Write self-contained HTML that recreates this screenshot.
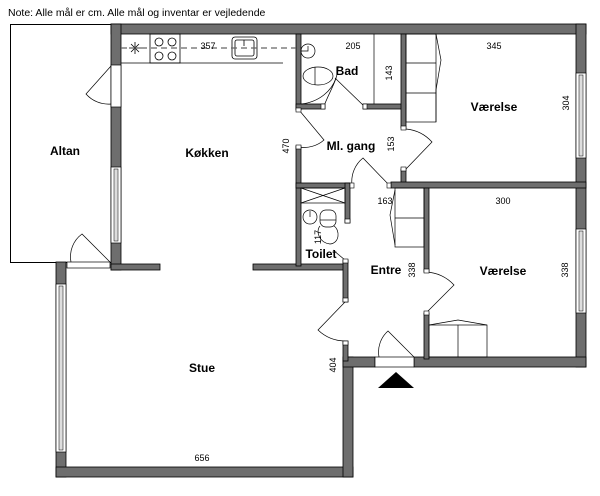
<!DOCTYPE html>
<html><head><meta charset="utf-8"><style>
html,body{margin:0;padding:0;background:#fff;width:600px;height:496px;overflow:hidden}
svg{display:block}
text{font-family:"Liberation Sans",sans-serif}
.l{font-weight:bold;font-size:12px}
.d{font-size:9px}
</style></head><body>
<svg width="600" height="496" viewBox="0 0 600 496" xmlns="http://www.w3.org/2000/svg">
<text x="8" y="16" font-size="10.5">Note: Alle mål er cm. Alle mål og inventar er vejledende</text>

<!-- Altan -->
<rect x="10.5" y="24.5" width="101" height="238" fill="none" stroke="#000" stroke-width="1"/>

<g fill="#6e6e6e" stroke="#000" stroke-width="0.8">
<!-- top outer wall -->
<rect x="111" y="24" width="475" height="10"/>
<!-- right outer -->
<rect x="576" y="24" width="10" height="343"/>
<!-- kitchen left -->
<rect x="111" y="24" width="10" height="246"/>
<!-- kitchen bottom walls -->
<rect x="111" y="264" width="49" height="6"/>
<rect x="253" y="264" width="94" height="6"/>
<!-- stue left -->
<rect x="56" y="262" width="10" height="215"/>
<!-- stue bottom -->
<rect x="56" y="467" width="297" height="10"/>
<!-- stue right outer -->
<rect x="343" y="357" width="10" height="120"/>
<rect x="343" y="357" width="32" height="10"/>
<rect x="414" y="357" width="172" height="10"/>
<!-- inner walls -->
<rect x="296" y="34" width="5" height="76"/>
<rect x="296" y="146" width="5" height="120"/>
<rect x="296" y="104" width="29" height="5"/>
<rect x="363" y="104" width="43" height="5"/>
<rect x="401" y="34" width="5" height="94"/>
<rect x="401" y="169" width="5" height="18"/>
<rect x="391" y="182" width="195" height="6"/>
<rect x="296" y="183" width="54" height="5"/>
<rect x="345" y="183" width="5" height="40"/>
<rect x="343" y="260" width="5" height="42"/>
<rect x="343" y="341" width="5" height="20"/>
<rect x="424" y="188" width="5" height="84"/>
<rect x="424" y="313" width="5" height="46"/>
</g>

<!-- windows -->
<g fill="#fff" stroke="#000" stroke-width="0.7">
<rect x="111" y="167" width="10" height="76"/>
<rect x="56" y="284" width="10" height="168"/>
<rect x="576" y="73" width="10" height="85"/>
<rect x="576" y="229" width="10" height="84"/>
</g>
<g stroke="#000" stroke-width="0.5" fill="#ddd">
<rect x="114" y="169" width="4" height="72"/>
<rect x="59" y="286" width="4" height="164"/>
<rect x="579" y="75" width="4" height="81"/>
<rect x="579" y="231" width="4" height="80"/>
</g>

<!-- door openings -->
<g fill="#fff" stroke="#000" stroke-width="0.7">
<rect x="111" y="65" width="10" height="42"/>
<rect x="67" y="262" width="43" height="6"/>
<rect x="375" y="357" width="39" height="10"/>
</g>
<g fill="none" stroke="#000" stroke-width="0.7">
<!-- kitchen-altan door -->
<path d="M111 66 L86 94 A30 30 0 0 0 111 104"/>
<!-- altan bottom door -->
<path d="M110 262 L82 234 A28 28 0 0 0 71 262"/>
<!-- entrance door -->
<path d="M414 357 L388 331 A28 28 0 0 0 379 357"/>
<!-- bad door -->
<path d="M365 107 L335 78"/>
<path d="M324 106 C330 90 338 80 338 66"/>
<!-- ml gang left -->
<path d="M299 110 L324 140 A30 30 0 0 1 299 147"/>
<!-- værelse1 door -->
<path d="M406 169 L432 142 A40 40 0 0 0 406 129"/>
<!-- ml gang to entre -->
<path d="M390 186 L363 158 A30 30 0 0 0 352 185"/>
<!-- toilet door -->
<path d="M345 260 L333 250"/>
<!-- entre to stue -->
<path d="M345 302 L318 330 A40 40 0 0 0 345 341"/>
<!-- værelse2 door -->
<path d="M426 313 L454 285 A40 40 0 0 0 426 272"/>
</g>

<!-- kitchen counter -->
<g fill="none" stroke="#000" stroke-width="0.8">
<path d="M121 63 H283"/>
<rect x="150" y="34" width="30" height="29"/>
<circle cx="159" cy="42" r="4"/><circle cx="172" cy="42" r="4"/>
<circle cx="159" cy="56" r="4"/><circle cx="172" cy="56" r="4"/>
<rect x="232" y="37" width="25" height="22" rx="3"/>
<rect x="235" y="40" width="19" height="16" rx="2"/>
<path d="M244 40 v6"/>
<path d="M129 48 h12 M135 42 v12 M131 44 l8 8 M139 44 l-8 8"/>
</g>
<path d="M121 48 H296" stroke="#666" stroke-width="1.2" stroke-dasharray="6 4" fill="none"/>

<!-- bad fixtures -->
<g fill="none" stroke="#000" stroke-width="0.7">
<path d="M374 34 V104"/>
<circle cx="308" cy="51" r="7"/>
<path d="M301 51 h7 v-5"/>
<ellipse cx="318" cy="76" rx="15" ry="9"/>
<path d="M315 67 v18"/>
<path d="M301 104 C320 102 332 90 336 78"/>
<!-- wardrobe v1 -->
<rect x="406" y="34" width="30" height="88"/>
<path d="M406 63 h30 M406 93 h30"/>
<path d="M436 34 L441 60 L436 90 L436 122"/>
<!-- closet entre -->
<rect x="395" y="188" width="29" height="59"/>
<path d="M395 218 h29"/>
<path d="M395 190 L390 215 L395 245"/>
<!-- wardrobe v2 -->
<rect x="429" y="325" width="58" height="32"/>
<path d="M458 325 v32"/>
<path d="M429 325 L458 320 L487 325"/>
<!-- toilet storage -->
<rect x="301" y="188" width="44" height="15"/>
<path d="M301 188 L345 203 M345 188 L301 203"/>
<!-- toilet fixtures -->
<circle cx="310" cy="217" r="7"/>
<path d="M310 211 v6"/>
<rect x="320" y="210" width="16" height="17" rx="6"/>
<path d="M320 220 h16"/>
<path d="M320 226 C315 232 320 243 330 244 C340 243 340 230 334 226"/>
</g>
<g fill="#fff" stroke="#000" stroke-width="0.6">
<rect x="345" y="219" width="5" height="4"/>
<rect x="343" y="259" width="5" height="4"/>
<rect x="343" y="298" width="5" height="4"/>
<rect x="343" y="341" width="5" height="4"/>
<rect x="424" y="269" width="5" height="4"/>
<rect x="424" y="311" width="5" height="4"/>
<rect x="401" y="126" width="5" height="4"/>
<rect x="401" y="167" width="5" height="4"/>
<rect x="296" y="108" width="5" height="4"/>
<rect x="296" y="145" width="5" height="4"/>
<rect x="321" y="104" width="4" height="5"/>
<rect x="363" y="104" width="4" height="5"/>
<rect x="350" y="183" width="4" height="5"/>
<rect x="387" y="183" width="4" height="5"/>
</g>

<!-- entrance arrow -->
<polygon points="378,388 396,372 414,388" fill="#000"/>

<!-- labels -->
<g class="l" text-anchor="middle">
<text x="65" y="155" class="l">Altan</text>
<text x="207" y="157" class="l">Køkken</text>
<text x="347" y="75" class="l">Bad</text>
<text x="351" y="150" class="l">Ml. gang</text>
<text x="494" y="111" class="l">Værelse</text>
<text x="503" y="275" class="l">Værelse</text>
<text x="386" y="274" class="l">Entre</text>
<text x="321" y="258" class="l">Toilet</text>
<text x="202" y="372" class="l">Stue</text>
</g>
<g class="d" text-anchor="middle">
<text x="208" y="49" class="d">357</text>
<text x="353" y="49" class="d">205</text>
<text x="494" y="49" class="d">345</text>
<text x="385" y="204" class="d">163</text>
<text x="503" y="204" class="d">300</text>
<text x="202" y="461" class="d">656</text>
<text class="d" transform="translate(569,103) rotate(-90)">304</text>
<text class="d" transform="translate(289,146) rotate(-90)">470</text>
<text class="d" transform="translate(394,144) rotate(-90)">153</text>
<text class="d" transform="translate(392,73) rotate(-90)">143</text>
<text class="d" transform="translate(321,237) rotate(-90)">117</text>
<text class="d" transform="translate(415,270) rotate(-90)">338</text>
<text class="d" transform="translate(568,270) rotate(-90)">338</text>
<text class="d" transform="translate(336,365) rotate(-90)">404</text>
</g>
</svg>
</body></html>
